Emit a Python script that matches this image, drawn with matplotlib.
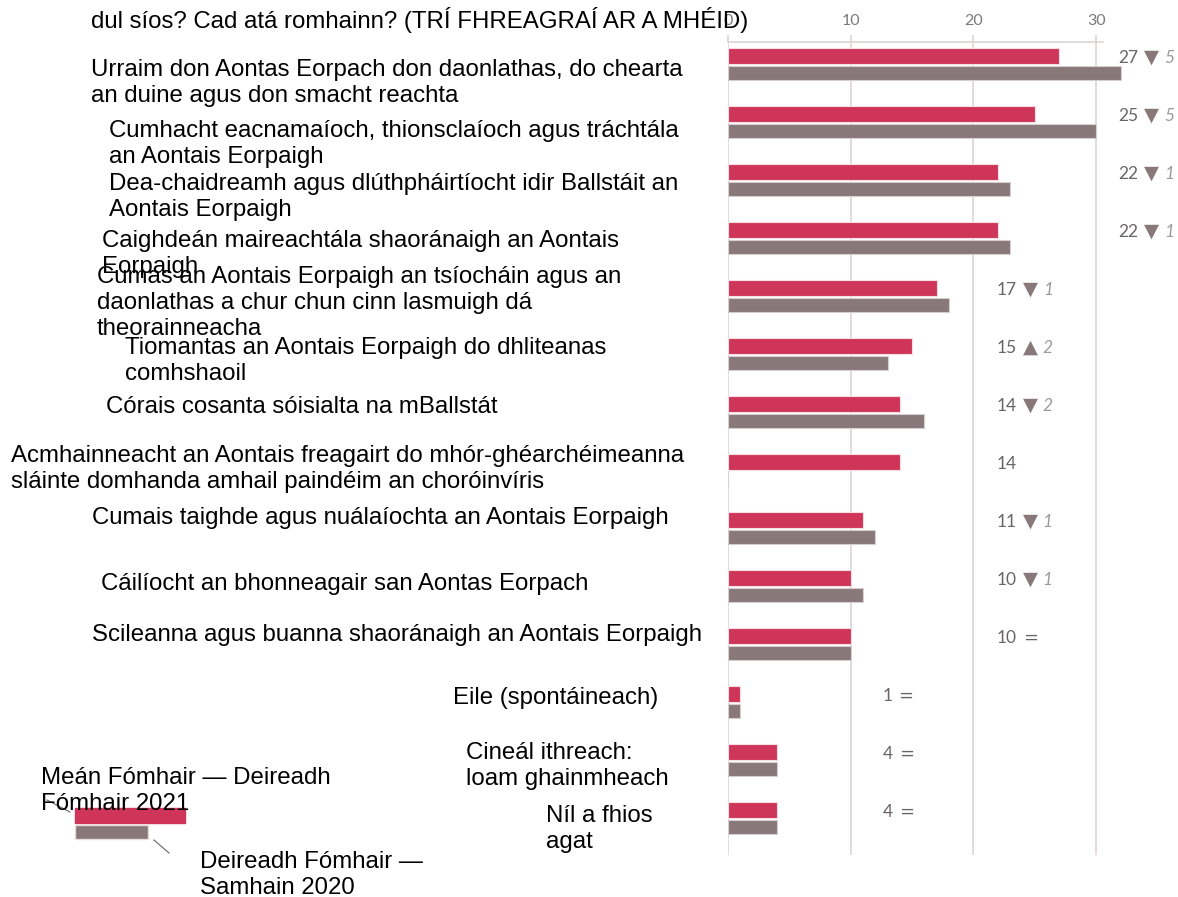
import matplotlib.pyplot as plt
from matplotlib.patches import Rectangle
from matplotlib.lines import Line2D

# data
categories = [
    "Urraim don Aontas Eorpach don daonlathas, do chearta\nan duine agus don smacht reachta",
    "Cumhacht eacnamaíoch, thionsclaíoch agus tráchtála\nan Aontais Eorpaigh",
    "Dea-chaidreamh agus dlúthpháirtíocht idir Ballstáit an\nAontais Eorpaigh",
    "Caighdeán maireachtála shaoránaigh an Aontais\nEorpaigh",
    "Cumas an Aontais Eorpaigh an tsíocháin agus an\ndaonlathas a chur chun cinn lasmuigh dá\ntheorainneacha",
    "Tiomantas an Aontais Eorpaigh do dhliteanas\ncomhshaoil",
    "Córais cosanta sóisialta na mBallstát",
    "Acmhainneacht an Aontais freagairt do mhór-ghéarchéimeanna\nsláinte domhanda amhail paindéim an choróinvíris",
    "Cumais taighde agus nuálaíochta an Aontais Eorpaigh",
    "Cáilíocht an bhonneagair san Aontas Eorpach",
    "Scileanna agus buanna shaoránaigh an Aontais Eorpaigh",
    "Eile (spontáineach)",
    "Cineál ithreach:\nloam ghainmheach",
    "Níl a fhios\nagat",
]
vals_2021 = [27, 25, 22, 22, 17, 15, 14, 14, 11, 10, 10, 1, 4, 4]
vals_2020 = [32, 30, 23, 23, 18, 13, 16, None, 12, 11, 10, 1, 4, 4]
series_names = ["Meán Fómhair — Deireadh\nFómhair 2021", "Deireadh Fómhair —\nSamhain 2020"]
title = "dul síos? Cad atá romhainn? (TRÍ FHREAGRAÍ AR A MHÉID)"

# layout of the (hand placed) category labels, pixels: left x, block centre y
label_pos = [(91, 83), (109, 144), (109, 197), (102, 254), (97, 303), (125, 361),
             (106, 407), (11, 469), (92, 518), (101, 584), (92, 635), (453, 698),
             (466, 766), (546, 829)]

W, H = 1178, 897
RED = "#cf3559"
GREY = "#897879"
GRID = "#dcd6d4"
TXT = "#6b6466"
FS = 17.3
LS = 1.25

def fx(x):
    return x / W

def fy(y):
    return 1 - y / H

fig = plt.figure(figsize=(W / 100, H / 100), dpi=100)
ax = fig.add_axes([fx(728), fy(855), fx(W - 728), (855 - 42) / H])

n = len(categories)
rows = list(range(n))
ax.barh([r - 0.147 for r in rows], vals_2021, height=0.27, color=RED,
        edgecolor="#f6dde3", linewidth=0.8, zorder=3)
prev = [v if v is not None else 0 for v in vals_2020]
ax.barh([r + 0.147 for r in rows], prev, height=0.25, color=GREY,
        edgecolor="#d6cfcf", linewidth=0.8, zorder=3)

ax.set_xlim(0, 450 / 12.27)
ax.set_ylim(13.63, -0.388)
ax.set_yticks([])
for s in ["left", "right", "bottom"]:
    ax.spines[s].set_visible(False)
ax.spines["top"].set_bounds(0, 30.6)
ax.spines["top"].set_color(GRID)
ax.spines["top"].set_linewidth(1.2)
ax.xaxis.tick_top()
ax.set_xticks([0, 10, 20, 30])
ax.tick_params(axis="x", colors=GRID, labelcolor="#7a7a7a", labelsize=11.5,
               length=5, width=1.2, pad=5)
for lab in ax.get_xticklabels():
    lab.set_family(["Lato", "DejaVu Sans"])
for t in [0, 10, 20, 30]:
    ax.axvline(t, color=GRID, lw=1.2, zorder=1)

# value labels with change markers
for r in rows:
    cur, old = vals_2021[r], vals_2020[r]
    top = max(cur, old or 0)
    lx = 31.8 if top >= 20 else (21.9 if top >= 10 else 12.6)
    num = ax.text(lx, r - 0.12, str(cur), color=TXT, fontsize=12.5, va="center",
                  ha="left", family=["Lato", "DejaVu Sans"])
    if old is None:
        continue
    d = cur - old
    if d == 0:
        ax.annotate("=", xy=(1, 0.5), xycoords=num, xytext=(6, 0), textcoords="offset pixels",
                    va="center", ha="left", color=TXT, fontsize=13, family="DejaVu Sans")
    else:
        sym = "▼" if d < 0 else "▲"
        tri = ax.annotate(sym, xy=(1, 0.5), xycoords=num, xytext=(6, 0), textcoords="offset pixels",
                          va="center", ha="left", color=GREY, fontsize=14, family="DejaVu Sans")
        ax.annotate(str(abs(d)), xy=(1, 0.5), xycoords=tri, xytext=(5, 0), textcoords="offset pixels",
                    va="center", ha="left", color="#9a9a9a", fontsize=12.5, style="italic",
                    family=["Lato", "DejaVu Sans"])

# category labels
for cat, (x, y) in zip(categories, label_pos):
    fig.text(fx(x), fy(y), cat, ha="left", va="center", fontsize=FS, linespacing=LS,
             family="Liberation Sans", color="black")

fig.text(fx(91), fy(20), title, ha="left", va="center", fontsize=FS,
         family="Liberation Sans", color="black")

# legend
fig.add_artist(Rectangle((fx(75), fy(823)), fx(110), 15 / H, color=RED, transform=fig.transFigure))
fig.add_artist(Rectangle((fx(75), fy(839)), fx(73), 14 / H, facecolor=GREY,
                         edgecolor="#e4dedd", transform=fig.transFigure))
fig.add_artist(Line2D([fx(47), fx(70)], [fy(800), fy(812)], color="#666666", lw=0.8))
fig.add_artist(Line2D([fx(154), fx(169)], [fy(840), fy(853)], color="#666666", lw=0.8))
fig.text(fx(41), fy(791), series_names[0], ha="left", va="center", fontsize=FS,
         linespacing=LS, family="Liberation Sans")
fig.text(fx(200), fy(875), series_names[1], ha="left", va="center", fontsize=FS,
         linespacing=LS, family="Liberation Sans")

fig.savefig("out.png", dpi=100)
